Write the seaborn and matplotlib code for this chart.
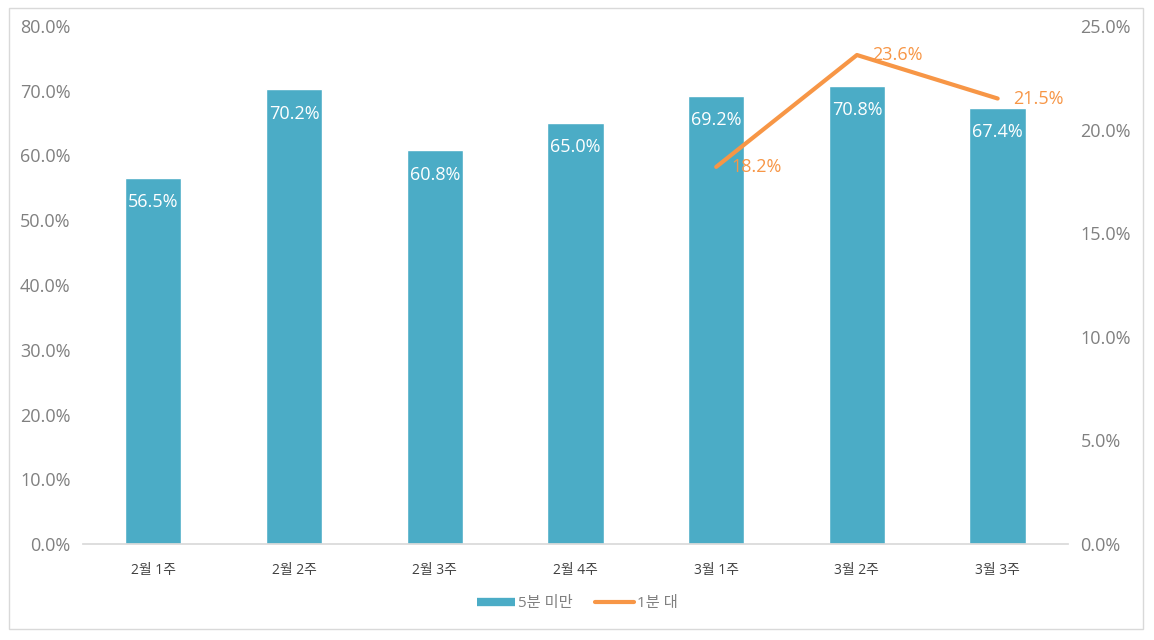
import numpy as np
import pandas as pd
import seaborn as sns
import matplotlib.pyplot as plt
from matplotlib.patches import Rectangle
from matplotlib.lines import Line2D

# 데이터
weeks = ["2월 1주", "2월 2주", "2월 3주", "2월 4주", "3월 1주", "3월 2주", "3월 3주"]
under5 = [56.5, 70.2, 60.8, 65.0, 69.2, 70.8, 67.4]
one_min = [np.nan, np.nan, np.nan, np.nan, 18.2, 23.6, 21.5]

bar_color = "#4BACC6"
line_color = "#F79646"

sns.set_theme(style="white")
plt.rcParams["font.family"] = ["Open Sans", "Noto Sans CJK KR", "DejaVu Sans"]

df = pd.DataFrame({"week": weeks, "under5": under5, "one_min": one_min})
df["pos"] = range(len(df))

fig = plt.figure(figsize=(11.54, 6.4), dpi=100)
ax = fig.add_axes([83 / 1154, 1 - 544 / 640, (1068 - 83) / 1154, (544 - 26) / 640])

sns.barplot(data=df, x="week", y="under5", color=bar_color, width=0.4,
            saturation=1, ax=ax)
ax.set_ylim(0, 80)
ax.set_xlim(-0.5, len(weeks) - 0.5)
ax.set_yticks(np.arange(0, 81, 10))
ax.set_yticklabels([f"{v:.1f}%" for v in np.arange(0, 81, 10)])
ax.set_xlabel("")
ax.set_ylabel("")
for s in ["top", "left", "right"]:
    ax.spines[s].set_visible(False)
ax.spines["bottom"].set_color("#D9D9D9")
ax.tick_params(axis="y", length=0, labelsize=13, labelcolor="#808080", pad=9)
ax.tick_params(axis="x", length=0, labelsize=10, labelcolor="#404040", pad=14)

# 막대 안쪽 끝 라벨
for p, v in zip(ax.patches, under5):
    ax.annotate(f"{v:.1f}%", (p.get_x() + p.get_width() / 2, v), xytext=(0, -11),
                textcoords="offset points", ha="center", va="top",
                color="white", fontsize=13)

ax2 = ax.twinx()
sns.lineplot(data=df, x="pos", y="one_min", color=line_color, linewidth=3,
             ax=ax2)
ax2.set_ylim(0, 25)
ax2.set_xlim(-0.5, len(weeks) - 0.5)
ax2.set_yticks(np.arange(0, 25.1, 5))
ax2.set_yticklabels([f"{v:.1f}%" for v in np.arange(0, 25.1, 5)])
ax2.set_ylabel("")
ax2.set_xlabel("")
for s in ["top", "left", "right", "bottom"]:
    ax2.spines[s].set_visible(False)
ax2.tick_params(axis="y", length=0, labelsize=13, labelcolor="#808080", pad=9)

for x, v in zip(df["pos"], one_min):
    if not np.isnan(v):
        ax2.annotate(f"{v:.1f}%", (x, v), xytext=(11, 0), textcoords="offset points",
                     ha="left", va="center", color=line_color, fontsize=13)

handles = [Line2D([0], [0], color=bar_color, linewidth=6, solid_capstyle="butt"),
           Line2D([0], [0], color=line_color, linewidth=3, solid_capstyle="round")]
fig.legend(handles, ["5분 미만", "1분 대"], loc="center", bbox_to_anchor=(0.5, 1 - 604 / 640),
           ncol=2, frameon=False, fontsize=11, labelcolor="#808080",
           handlelength=2.5, handletextpad=0.2, columnspacing=1.5)

fig.patches.append(Rectangle((9 / 1154, 1 - 629 / 640), (1143 - 9) / 1154, (629 - 8) / 640,
                             transform=fig.transFigure, fill=False,
                             edgecolor="#D9D9D9", linewidth=1))

fig.savefig("out.png", dpi=100)
